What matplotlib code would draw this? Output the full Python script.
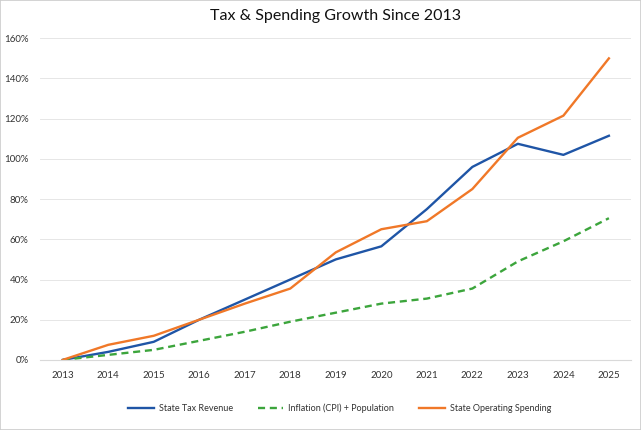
import matplotlib
matplotlib.use("Agg")
import matplotlib.pyplot as plt
from matplotlib.ticker import FuncFormatter

years = list(range(2013, 2026))
tax_revenue = [0, 4, 9, 20, 30, 40, 50, 56.5, 75, 96, 107.5, 102, 111.5]
inflation_pop = [0, 2.5, 5, 9.5, 14, 19, 23.5, 28, 30.5, 35.5, 49, 59, 70.5]
op_spending = [0, 7.5, 12, 20, 28, 35.5, 53.5, 65, 69, 85, 110.5, 121.5, 150]

plt.rcParams['font.family'] = ['Lato', 'DejaVu Sans']

fig = plt.figure(figsize=(6.41, 4.30), dpi=100)
ax = fig.add_axes([0.062, 0.163, 0.922, 0.748])

ax.plot(years, tax_revenue, color='#1f55a6', lw=1.7, label='State Tax Revenue')
ax.plot(years, inflation_pop, color='#3ca53c', lw=1.7, ls=(0, (3, 2)),
        label='Inflation (CPI) + Population')
ax.plot(years, op_spending, color='#f07828', lw=1.7, label='State Operating Spending')

ax.set_ylim(0, 160)
ax.set_yticks(range(0, 161, 20))
ax.yaxis.set_major_formatter(FuncFormatter(lambda v, p: f"{int(v)}%"))
ax.set_xlim(2012.495, 2025.48)
ax.set_xticks(years)
ax.grid(axis='y', color='#e6e6e6', lw=0.7)
ax.set_axisbelow(True)
for s in ['top', 'right', 'left']:
    ax.spines[s].set_visible(False)
ax.spines['bottom'].set_color('#d9d9d9')
ax.tick_params(length=0, labelsize=7, colors='#333333', pad=8)

ax.set_title('Tax & Spending Growth Since 2013', fontsize=11.5, color='#111111', pad=13)

fig.legend(loc='lower center', bbox_to_anchor=(0.53, 0.02), ncol=3, frameon=False,
           fontsize=6.5, handlelength=2.8, handletextpad=0.55, columnspacing=2.8,
           labelcolor='#333333')

border = plt.Rectangle((0, 0), 1, 1, transform=fig.transFigure, fill=False,
                       edgecolor='#cccccc', lw=1.2)
fig.patches.append(border)

fig.savefig('out.png', dpi=100)
